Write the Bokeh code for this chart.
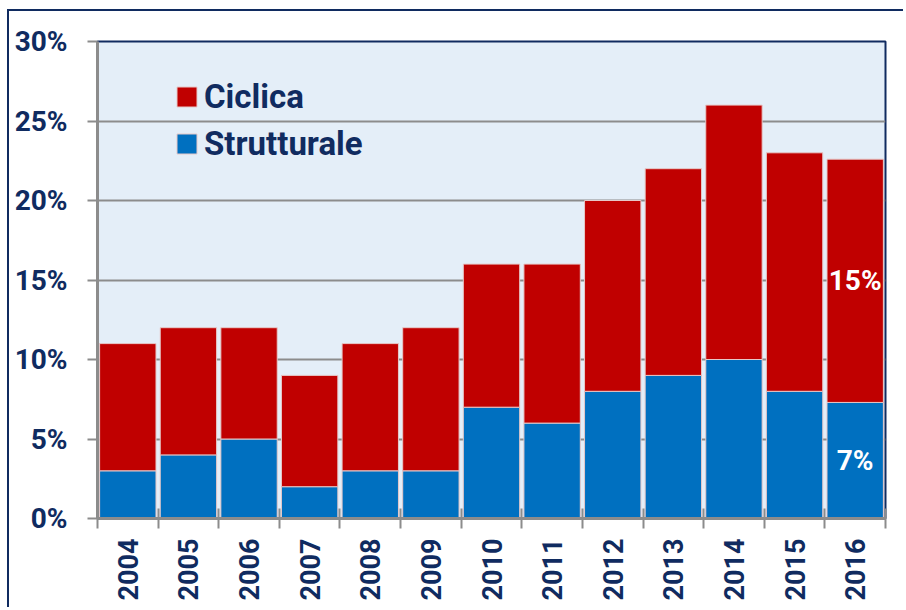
from bokeh.plotting import figure
from bokeh.models import (ColumnDataSource, Range1d, FixedTicker, Legend, LegendItem)
from bokeh.core.properties import value
from bokeh.embed import file_html
from bokeh.resources import INLINE
import math

years = ["2004", "2005", "2006", "2007", "2008", "2009", "2010",
         "2011", "2012", "2013", "2014", "2015", "2016"]
strutturale = [3, 4, 5, 2, 3, 3, 7, 6, 8, 9, 10, 8, 7.3]
ciclica = [8, 8, 7, 7, 8, 9, 9, 10, 12, 13, 16, 15, 15.3]
y_ticks = [0, 5, 10, 15, 20, 25, 30]
y_tick_labels = ["0%", "5%", "10%", "15%", "20%", "25%", "30%"]
series_names = ["Ciclica", "Strutturale"]
last_labels = ["7%", "15%"]

NAVY = "#102B60"
RED = "#C00000"
BLUE = "#0070C0"
GREY = "#8C8C8C"
FONT = "Roboto"

xs = list(range(len(years)))
source = ColumnDataSource(dict(x=xs, strutturale=strutturale, ciclica=ciclica))

p = figure(width=896, height=598, output_backend="svg", toolbar_location=None,
           x_range=Range1d(-0.5, len(years) - 0.5), y_range=Range1d(0, 30),
           min_border_left=88, min_border_right=20, min_border_top=30,
           min_border_bottom=91)
p.styles = {"border-top": f"2px solid {NAVY}", "border-left": f"2px solid {NAVY}",
            "margin-left": "7px", "margin-top": "9px"}
p.background_fill_color = "#E4EEF8"
p.border_fill_color = "white"
p.outline_line_color = NAVY
p.outline_line_width = 2

renderers = p.vbar_stack(["strutturale", "ciclica"], x="x", width=0.93,
                         color=[BLUE, RED], line_color="#E6C8C8",
                         line_width=1, source=source)

# grid
p.xgrid.grid_line_color = None
p.ygrid.grid_line_color = GREY
p.ygrid.grid_line_width = 2
p.ygrid.ticker = FixedTicker(ticks=y_ticks)

# y axis
p.yaxis.ticker = FixedTicker(ticks=y_ticks)
p.yaxis.major_label_overrides = {t: l for t, l in zip(y_ticks, y_tick_labels)}
p.yaxis.axis_line_color = GREY
p.yaxis.axis_line_width = 3
p.yaxis.major_tick_line_color = GREY
p.yaxis.major_tick_line_width = 2
p.yaxis.major_tick_out = 10
p.yaxis.major_tick_in = 0
p.yaxis.minor_tick_line_color = None
p.yaxis.major_label_standoff = 20
p.yaxis.major_label_text_font = FONT
p.yaxis.major_label_text_font_size = "28px"
p.yaxis.major_label_text_font_style = "bold"
p.yaxis.major_label_text_color = NAVY

# x axis
p.xaxis.ticker = FixedTicker(ticks=xs, minor_ticks=[i - 0.5 for i in range(len(years) + 1)])
p.xaxis.major_label_overrides = {i: y for i, y in zip(xs, years)}
p.xaxis.axis_line_color = GREY
p.xaxis.axis_line_width = 3
p.xaxis.major_tick_line_color = None
p.xaxis.major_tick_out = 10
p.xaxis.major_tick_in = 0
p.xaxis.minor_tick_line_color = GREY
p.xaxis.minor_tick_line_width = 2
p.xaxis.minor_tick_in = 10
p.xaxis.minor_tick_out = 10
p.xaxis.major_label_orientation = math.pi / 2
p.xaxis.major_label_standoff = 10
p.xaxis.major_label_text_font = FONT
p.xaxis.major_label_text_font_size = "27px"
p.xaxis.major_label_text_font_style = "bold"
p.xaxis.major_label_text_color = NAVY

# labels on last bar
i_last = len(years) - 1
lab_y = [strutturale[i_last] / 2, strutturale[i_last] + ciclica[i_last] / 2]
p.text(x=[xs[i_last], xs[i_last]], y=lab_y, text=last_labels,
       text_font=value(FONT), text_font_size="28px", text_font_style="bold",
       text_color="white", text_align="center", text_baseline="middle")

legend = Legend(items=[LegendItem(label=series_names[0], renderers=[renderers[1]]),
                       LegendItem(label=series_names[1], renderers=[renderers[0]])],
                location=(77, 355), orientation="vertical",
                background_fill_alpha=0, border_line_color=None,
                label_text_font=FONT, label_text_font_size="33px",
                label_text_font_style="bold", label_text_color=NAVY,
                glyph_width=25, glyph_height=25, label_standoff=5,
                label_height=40, spacing=7, padding=0, margin=0)
p.add_layout(legend, "center")

open("out.html", "w").write(file_html(p, INLINE))
